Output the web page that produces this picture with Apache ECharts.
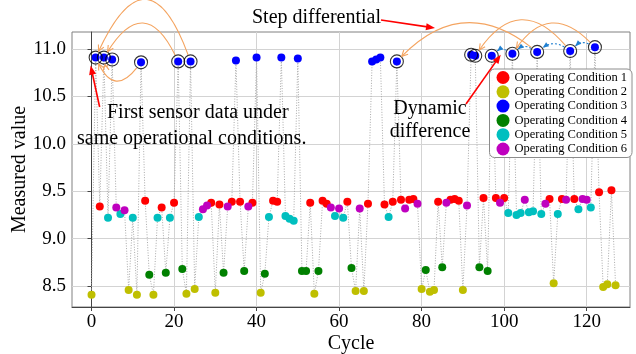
<!DOCTYPE html>
<html>
<head>
<meta charset="utf-8">
<script src="https://cdn.jsdelivr.net/npm/echarts@6/dist/echarts.min.js"></script>
<style>
  html, body { margin: 0; padding: 0; background: #fff; }
  #chart { width: 636px; height: 354px; }
</style>
</head>
<body>
<div id="chart"></div>
<script>
// measured value per cycle (cycle = index)
const values = [
  8.41, 10.91, 9.34, 10.91, 9.22, 10.89, 9.33, 9.26, 9.30, 8.46,
  9.22, 8.41, 10.86, 9.40, 8.62, 8.41, 9.22, 9.33, 8.64, 9.22,
  9.38, 10.87, 8.68, 8.42, 10.87, 8.47, 9.23, 9.31, 9.35, 9.38,
  8.43, 9.36, 8.64, 9.34, 9.39, 10.88, 9.39, 8.66, 9.34, 9.38,
  10.91, 8.43, 8.63, 9.23, 9.40, 9.39, 10.91, 9.24, 9.21, 9.19,
  10.90, 8.66, 8.66, 9.38, 8.42, 8.66, 9.40, 9.37, 9.33, 9.24,
  9.32, 9.22, 9.39, 8.69, 8.45, 9.32, 8.45, 9.37, 10.87, 10.89,
  10.91, 9.36, 9.23, 9.39, 10.87, 9.41, 9.32, 9.41, 9.42, 9.37,
  8.47, 8.67, 8.44, 8.46, 9.39, 8.70, 9.38, 9.41, 9.42, 9.40,
  8.46, 9.35, 10.94, 10.93, 8.70, 9.43, 8.66, 10.93, 9.43, 9.38,
  9.43, 9.27, 10.95, 9.25, 9.27, 9.41, 9.28, 9.29, 10.97, 9.26,
  9.37, 9.42, 8.53, 9.26, 9.42, 9.41, 10.98, 9.42, 9.31, 9.42,
  9.41, 9.33, 11.02, 9.49, 8.49, 8.52, 9.51, 8.51
];
// operating condition (1..6) per cycle
const conditions = [
  2, 3, 1, 3, 5, 3, 6, 5, 6, 2,
  5, 2, 3, 1, 4, 2, 5, 1, 4, 5,
  1, 3, 4, 2, 3, 2, 5, 6, 6, 1,
  2, 1, 4, 6, 1, 3, 1, 4, 6, 1,
  3, 2, 4, 5, 1, 1, 3, 5, 5, 5,
  3, 4, 4, 1, 2, 4, 1, 1, 6, 5,
  6, 5, 1, 4, 2, 6, 2, 1, 3, 3,
  3, 1, 5, 1, 3, 1, 6, 1, 1, 6,
  2, 4, 2, 2, 1, 4, 6, 1, 1, 1,
  2, 6, 3, 3, 4, 1, 4, 3, 1, 6,
  1, 5, 3, 5, 5, 6, 5, 5, 3, 5,
  6, 1, 2, 5, 1, 6, 3, 1, 5, 6,
  6, 5, 3, 1, 2, 2, 1, 2
];
const conditionNames = [
  'Operating Condition 1', 'Operating Condition 2', 'Operating Condition 3',
  'Operating Condition 4', 'Operating Condition 5', 'Operating Condition 6'
];
const conditionColors = ['#ff0000', '#bfbf00', '#0000ff', '#008000', '#00bfbf', '#bf00bf'];
const circledCycles = [1, 3, 5, 12, 21, 24, 74, 92, 93, 97, 102, 108, 116, 122];
// [from cycle, to cycle, bend]
const stepArcs = [[24, 1, 1.2], [21, 3, 0.9], [12, 1, -0.8], [5, 3, -1.2],
                  [108, 74, 0.45], [116, 93, 0.65], [122, 102, 0.6]];
const dynamicArcs = [[122, 116], [116, 108], [108, 102], [102, 97]];
const xTicks = [0, 20, 40, 60, 80, 100, 120];
const yTicks = [8.5, 9.0, 9.5, 10.0, 10.5, 11.0];

const FONT = 'Liberation Serif';
const chart = echarts.init(document.getElementById('chart'));

const series = [{
  type: 'line',
  data: values.map((v, i) => [i, v]),
  symbol: 'none',
  lineStyle: { color: '#a8a8a8', width: 1, type: [1, 1.6] },
  z: 1,
  silent: true
}];
conditionNames.forEach((name, k) => {
  series.push({
    type: 'scatter',
    name: name,
    data: values.map((v, i) => [i, v]).filter((d, i) => conditions[i] === k + 1),
    symbolSize: 8,
    itemStyle: { color: conditionColors[k], opacity: 1 },
    z: 3
  });
});
series.push({
  type: 'scatter',
  data: circledCycles.map(c => [c, values[c]]),
  symbolSize: 13,
  itemStyle: { color: 'none', borderColor: '#000', borderWidth: 1.1 },
  z: 4,
  silent: true
});

chart.setOption({
  animation: false,
  grid: { left: 72, right: 6, top: 32, bottom: 47, containLabel: false, outerBoundsMode: 'none',
          show: true, borderColor: '#808080', borderWidth: 1 },
  xAxis: {
    type: 'value', min: -4.73, max: 130.5,
    name: 'Cycle', nameLocation: 'middle', nameGap: 27, nameMoveOverlap: false,
    nameTextStyle: { fontFamily: FONT, fontSize: 20, color: '#000' },
    axisLine: { lineStyle: { color: '#444' } },
    axisTick: { show: true, length: 4, customValues: xTicks, lineStyle: { color: '#444' } },
    axisLabel: { customValues: xTicks, margin: 6, fontFamily: FONT, fontSize: 19, color: '#000' },
    splitLine: { show: true, lineStyle: { color: '#d3d3d3', width: 1 } }
  },
  yAxis: {
    type: 'value', min: 8.28, max: 11.18,
    name: 'Measured value', nameLocation: 'middle', nameGap: 42, nameMoveOverlap: false,
    nameTextStyle: { fontFamily: FONT, fontSize: 20, color: '#000' },
    axisLine: { show: true, lineStyle: { color: '#444' } },
    axisTick: { show: true, length: 4, customValues: yTicks, lineStyle: { color: '#444' } },
    axisLabel: { customValues: yTicks, margin: 6, fontFamily: FONT, fontSize: 19, color: '#000',
                 formatter: v => v.toFixed(1) },
    splitLine: { show: true, lineStyle: { color: '#d3d3d3', width: 1 } }
  },
  legend: {
    orient: 'vertical', right: 4, top: 69,
    data: conditionNames,
    icon: 'circle', itemWidth: 13, itemHeight: 13, itemGap: 1.3,
    padding: [2, 5, 2, 7],
    backgroundColor: 'rgba(255,255,255,0.95)', borderColor: '#8c8c8c', borderWidth: 1, borderRadius: 5,
    textStyle: { fontFamily: FONT, fontSize: 12.5, color: '#000', lineHeight: 13 },
    z: 10
  },
  series: series
});

// ---- annotations ----
function px(c) { return chart.convertToPixel({ gridIndex: 0 }, [c, values[c]]); }

function head(x, y, ang, len, half, color, filled, lw) {
  const bx = x - len * Math.cos(ang), by = y - len * Math.sin(ang);
  const p1 = [bx + half * Math.sin(ang), by - half * Math.cos(ang)];
  const p2 = [bx - half * Math.sin(ang), by + half * Math.cos(ang)];
  if (filled) return { type: 'polygon', z: 20, shape: { points: [[x, y], p1, p2] }, style: { fill: color } };
  return { type: 'polyline', z: 20, shape: { points: [p1, [x, y], p2] }, style: { stroke: color, lineWidth: lw, fill: null } };
}

function curve(a, b, bend, shrink, color, dash, filled) {
  const dx = b[0] - a[0], dy = b[1] - a[1];
  const cp = [(a[0] + b[0]) / 2 - bend * dy, (a[1] + b[1]) / 2 + bend * dx];
  const ua = Math.hypot(cp[0] - a[0], cp[1] - a[1]);
  const ub = Math.hypot(cp[0] - b[0], cp[1] - b[1]);
  const s = [a[0] + (cp[0] - a[0]) / ua * shrink, a[1] + (cp[1] - a[1]) / ua * shrink];
  const e = [b[0] + (cp[0] - b[0]) / ub * shrink, b[1] + (cp[1] - b[1]) / ub * shrink];
  const ang = Math.atan2(e[1] - cp[1], e[0] - cp[0]);
  return [
    { type: 'bezierCurve', z: 19,
      shape: { x1: s[0], y1: s[1], x2: e[0], y2: e[1], cpx1: cp[0], cpy1: cp[1] },
      style: { stroke: color, lineWidth: 1.1, fill: null, lineDash: dash } },
    head(e[0], e[1], ang, 6, filled ? 2.5 : 3, color, filled, 1.1)
  ];
}

function straight(x1, y1, x2, y2) {
  const ang = Math.atan2(y2 - y1, x2 - x1);
  return [
    { type: 'line', z: 19, shape: { x1: x1, y1: y1, x2: x2 - 6 * Math.cos(ang), y2: y2 - 6 * Math.sin(ang) },
      style: { stroke: '#ff0000', lineWidth: 1.6 } },
    head(x2, y2, ang, 9, 3.5, '#ff0000', true)
  ];
}

const graphics = [];
stepArcs.forEach(([f, t, bend]) => graphics.push(...curve(px(f), px(t), bend, 7, '#f4a460', null, false)));
dynamicArcs.forEach(([f, t]) => graphics.push(...curve(px(f), px(t), 0.35, 7, '#1f7fd0', [2, 2], true)));

const p1 = px(1), p97 = px(97);
graphics.push(...straight(p1[0] + 4, 107, p1[0] - 5, p1[1] + 8));
graphics.push(...straight(381, 20, 435, 28));
graphics.push(...straight(466, 104, p97[0] + 9, p97[1] - 1));

const textStyle = { font: '20px "' + FONT + '"', fill: '#000', verticalAlign: 'middle' };
[
  ['Step differential', 252, 18, 'left'],
  ['First sensor data under', 107, 113, 'left'],
  ['same operational conditions.', 77, 139, 'left'],
  ['Dynamic', 430, 109, 'center'],
  ['difference', 430, 132, 'center']
].forEach(([t, x, y, al]) => graphics.push({
  type: 'text', z: 18, style: Object.assign({ text: t, x: x, y: y, align: al }, textStyle)
}));

chart.setOption({ graphic: graphics });
</script>
</body>
</html>
